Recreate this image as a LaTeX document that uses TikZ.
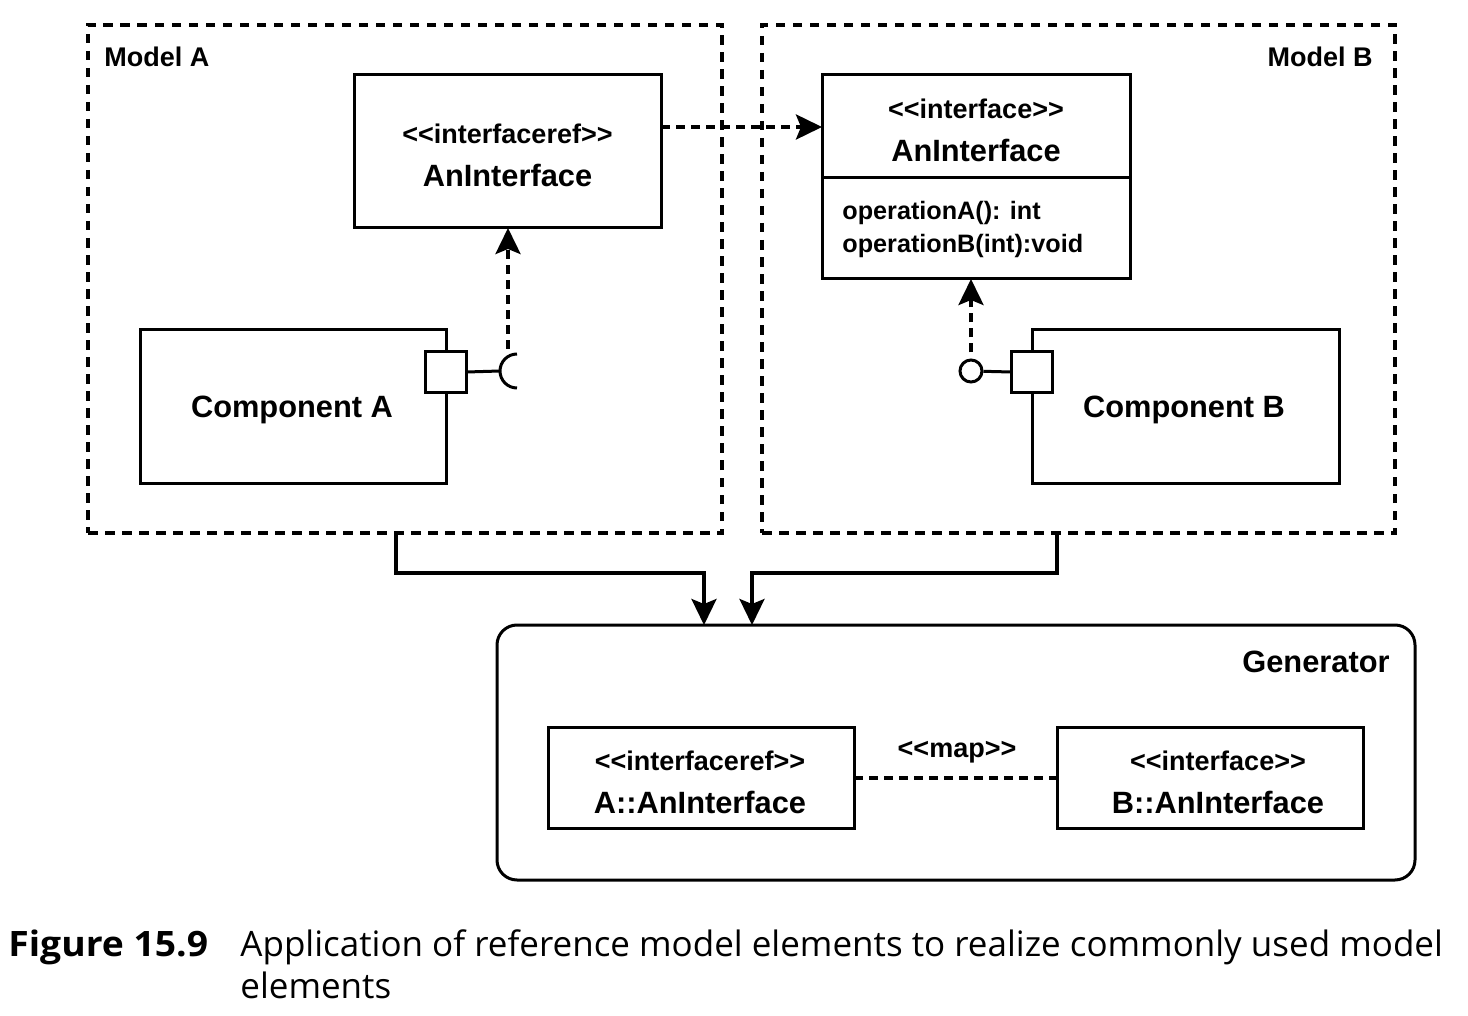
\documentclass[tikz,border=0pt]{standalone}
\usepackage{fontspec}
\setmainfont{Liberation Sans}
\newfontfamily\capfont{Open Sans}
\usetikzlibrary{arrows.meta}
\newcommand\stO{<\kern0pt<}
\newcommand\stC{>\kern0pt>}
\begin{document}
\begin{tikzpicture}[x=0.5pt,y=-0.5pt,
  box/.style={draw, line width=1.5pt, inner sep=0pt, outer sep=0pt},
  dbox/.style={draw, line width=2pt, inner sep=0pt, outer sep=0pt, dash pattern=on 4.75pt off 3.75pt},
  big/.style={font=\fontsize{15.4}{18}\selectfont\bfseries, inner sep=0pt},
  small/.style={font=\fontsize{13.5}{16}\selectfont\bfseries, inner sep=0pt},
  ops/.style={font=\fontsize{12.6}{15}\selectfont\bfseries, inner sep=0pt},
  conn/.style={line width=1.7pt, -{Stealth[length=13pt,width=12.5pt,inset=2.5pt]}},
  dconn/.style={conn, line width=2pt, dash pattern=on 4.5pt off 3pt},
  thin/.style={line width=1.5pt},
  capstyle/.style={inner sep=0pt, anchor=base west, font=\capfont\fontsize{17.5}{21}\selectfont},
]
\useasboundingbox (0,0) rectangle (1468,1016);

% Model A
\node[dbox, minimum width=317pt, minimum height=254pt] (modelA) at (405,279) {};
\node[small, anchor=west] (labA) at (104,57) {Model A};
\node[box, minimum width=153.5pt, minimum height=76.5pt] (ifref) at (507.5,151.5) {};
\node[small] (ifrefS) at (507.5,134) {\stO interfaceref\stC};
\node[big] (ifrefN) at (507.5,175) {AnInterface};
\node[box, minimum width=153pt, minimum height=76.5pt] (compA) at (293,406.5) {};
\node[big] (compAN) at (292,410) {Component A};
\node[box, fill=white, minimum size=20.5pt] (portA) at (446,372) {};
\coordinate (sockA) at (500,371);
\draw[thin] (portA.east) -- (sockA);
\draw[thin] (517,354) .. controls (507.6,354) and (500,361.6) .. (sockA) .. controls (500,380.4) and (507.6,388) .. (517,388);
\coordinate (reqA) at (508,349);
\draw[dconn] (reqA) -- (reqA |- ifref.south);

% Model B
\node[dbox, minimum width=316.5pt, minimum height=254pt] (modelB) at (1078.5,279) {};
\node[small, anchor=east] (labB) at (1373,57) {Model B};
\node[box, minimum width=154pt, minimum height=102pt] (ifB) at (976,177) {};
\coordinate (divy) at (0,178);
\draw[thin] (ifB.west |- divy) -- (ifB.east |- divy);
\node[small] (ifBS) at (976,109) {\stO interface\stC};
\node[big] (ifBN) at (976,150) {AnInterface};
\node[ops, anchor=west] (opA) at (842,213) {operationA(): int};
\node[ops, anchor=west] (opB) at (842,246) {operationB(int):void};
\node[box, minimum width=153.5pt, minimum height=76.5pt] (compB) at (1185.5,406.5) {};
\node[big] (compBN) at (1184,410) {Component B};
\node[box, fill=white, minimum size=20.5pt] (portB) at (1032,372) {};
\node[draw, circle, line width=1.5pt, minimum size=11pt, inner sep=0pt, fill=white] (lolB) at (971,371) {};
\draw[thin] (lolB) -- (portB.west);
\draw[dconn] ([yshift=3pt]lolB.north) -- (lolB |- ifB.south);

% interfaceref -> interface
\draw[dconn] ([yshift=12.25pt]ifref.east) -- ([yshift=12.25pt]ifref.east -| ifB.west);

% Generator
\node[box, rounded corners=10pt, minimum width=459pt, minimum height=127.5pt] (gen) at (956,752.5) {};
\node[big, anchor=east] (genN) at (1390,662) {Generator};
\node[box, minimum width=153pt, minimum height=50.5pt] (gA) at (701,777.5) {};
\node[small] (gAS) at (700,761) {\stO interfaceref\stC};
\node[big] (gAN) at (700,802) {A::AnInterface};
\node[box, minimum width=153pt, minimum height=50.5pt] (gB) at (1210,777.5) {};
\node[small] (gBS) at (1218,761) {\stO interface\stC};
\node[big] (gBN) at (1218,802) {B::AnInterface};
\draw[line width=2pt, dash pattern=on 4.5pt off 3pt] (gA.east) -- (gB.west);
\node[small] (mapL) at (957,752) {\stO map\stC};

% Models -> Generator
\coordinate (ax) at (396,573);
\coordinate (jA) at (704,573);
\draw[conn] (modelA.south -| ax) -- (ax) -- (jA) -- (jA |- gen.north);
\coordinate (bx) at (1057,573);
\coordinate (jB) at (752,573);
\draw[conn] (modelB.south -| bx) -- (bx) -- (jB) -- (jB |- gen.north);

% Caption
\node[capstyle, font=\capfont\fontsize{17.5}{21}\selectfont\bfseries\addfontfeatures{FakeStretch=1.065}] (figno) at (8,956) {Figure 15.9};
\node[capstyle] (cap1) at (240,956) {Application of reference model elements to realize commonly used model};
\node[capstyle] (cap2) at (240,998) {elements};
\end{tikzpicture}
\end{document}
